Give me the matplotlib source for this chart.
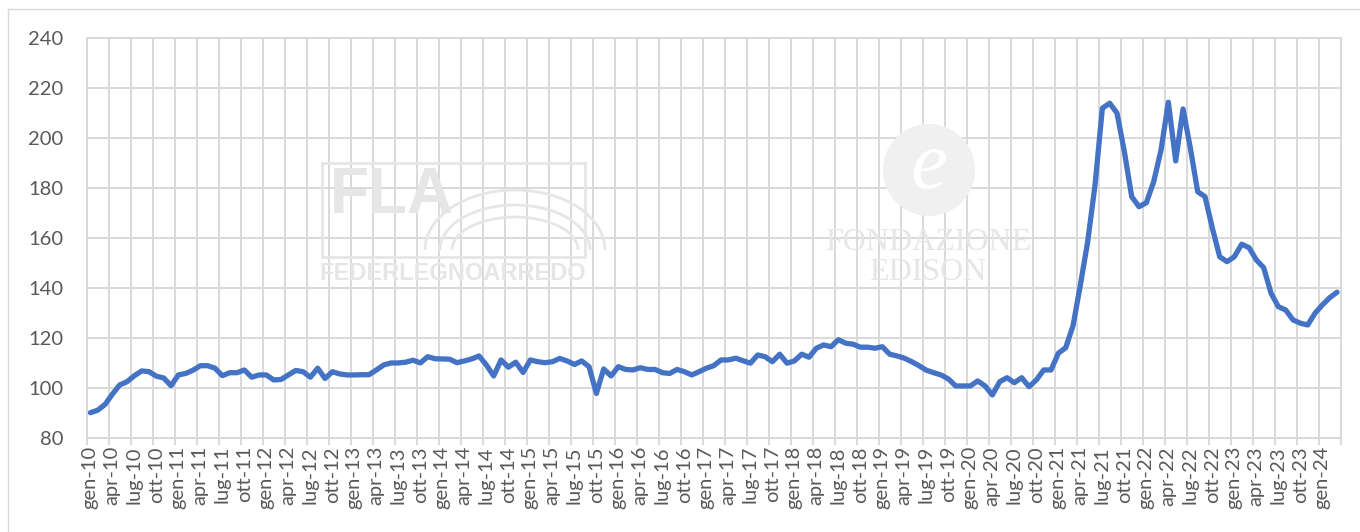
import numpy as np
import matplotlib
matplotlib.use('Agg')
import matplotlib.pyplot as plt
from matplotlib.lines import Line2D
from matplotlib.patches import Rectangle, Arc, Circle
from matplotlib.transforms import IdentityTransform

# monthly index, gen-10 .. mar-24
months_it = ['gen', 'feb', 'mar', 'apr', 'mag', 'giu', 'lug', 'ago', 'set', 'ott', 'nov', 'dic']
years = list(range(2010, 2025))
index_values = [
    90.0, 91.0, 93.3, 97.4, 101.1, 102.4, 104.8, 106.7, 106.4, 104.6, 103.9, 100.8,   # 2010
    105.1, 105.7, 107.0, 108.8, 108.8, 107.8, 104.8, 106.0, 106.0, 107.1, 104.2, 105.1,  # 2011
    105.1, 103.1, 103.3, 105.1, 106.9, 106.4, 104.2, 107.8, 103.7, 106.4, 105.5, 105.1,  # 2012
    105.1, 105.2, 105.2, 107.1, 109.1, 109.9, 109.9, 110.2, 111.0, 109.9, 112.4, 111.6,  # 2013
    111.5, 111.4, 110.0, 110.7, 111.5, 112.7, 109.1, 104.7, 111.1, 108.2, 110.2, 106.1,  # 2014
    111.1, 110.4, 110.0, 110.4, 111.7, 110.7, 109.3, 110.7, 108.4, 97.7, 107.5, 104.7,   # 2015
    108.4, 107.3, 107.1, 108.0, 107.3, 107.3, 106.0, 105.7, 107.3, 106.4, 105.1, 106.4,  # 2016
    107.8, 108.8, 111.1, 111.1, 111.8, 110.8, 109.8, 113.1, 112.4, 110.4, 113.4, 109.8,  # 2017
    110.7, 113.4, 112.2, 115.8, 117.1, 116.4, 119.2, 117.8, 117.4, 116.2, 116.2, 115.8,  # 2018
    116.4, 113.4, 112.7, 111.8, 110.4, 108.8, 107.0, 106.0, 105.1, 103.5, 100.7, 100.7,  # 2019
    100.7, 102.7, 100.7, 97.1, 102.4, 104.0, 102.0, 104.0, 100.4, 103.1, 107.1, 107.1,   # 2020
    113.8, 116.0, 124.8, 141.1, 158.4, 181.1, 211.8, 213.8, 209.8, 194.4, 176.4, 172.4,  # 2021
    174.0, 182.4, 195.1, 214.2, 190.7, 211.5, 195.8, 178.4, 176.4, 163.8, 152.4, 150.4,  # 2022
    152.4, 157.4, 156.0, 151.1, 148.0, 137.8, 132.4, 131.1, 127.1, 125.8, 125.1, 129.8,  # 2023
    133.1, 136.0, 138.2,                                                                # 2024
]
y_ticks = [80, 100, 120, 140, 160, 180, 200, 220, 240]

n = len(index_values)
categories = ['{}-{}'.format(months_it[i % 12], str(years[i // 12])[2:]) for i in range(n)]

W, H = 1360, 532
fig = plt.figure(figsize=(W / 100, H / 100), dpi=100)
left, right, top, bottom = 86.7, 1340.7, 37.7, 437.7
ax = fig.add_axes([left / W, 1 - bottom / H, (right - left) / W, (bottom - top) / H])

grid_col = '#d9d9d9'
txt_col = '#595959'
font = 'Lato'

# outer chart border (only top and left visible)
fig.add_artist(Line2D([8 / W, 1], [1 - 9 / H, 1 - 9 / H], color=grid_col, lw=1.0))
fig.add_artist(Line2D([8 / W, 8 / W], [0, 1 - 9 / H], color=grid_col, lw=1.0))

# watermark logos
wm = '#e6e6e6'
pix = IdentityTransform()
fig.add_artist(Rectangle((322, H - 257), 263, 94, fill=False, ec=wm, lw=2.0, transform=pix, zorder=2))
fig.text(330 / W, 1 - 196 / H, 'FLA', fontsize=46, fontweight='bold', family='Liberation Sans',
         color=wm, va='center', ha='left', zorder=2)
for r in (60, 45, 33):
    fig.add_artist(Arc((515, H - 250), 2 * r + 60, 2 * r, theta1=0, theta2=180, ec=wm, lw=2.0,
                       transform=pix, zorder=2))
fig.text(453 / W, 1 - 273 / H, 'FEDERLEGNOARREDO', fontsize=17, fontweight='bold',
         family='Liberation Sans', color=wm, ha='center', va='center', zorder=2)
fig.add_artist(Circle((929, H - 170), 46, fc='#f0f0f0', ec='none', transform=pix, zorder=2))
fig.text(929 / W, 1 - 168 / H, 'e', fontsize=60, style='italic', family='Liberation Serif',
         color='white', ha='center', va='center', zorder=2)
fig.text(928 / W, 1 - 242 / H, 'FONDAZIONE', fontsize=23, family='Liberation Serif',
         color=wm, ha='center', va='center', zorder=2)
fig.text(928 / W, 1 - 273 / H, 'EDISON', fontsize=23, family='Liberation Serif',
         color=wm, ha='center', va='center', zorder=2)
ax.patch.set_alpha(0)

x = np.arange(n) + 0.5
ax.plot(x, index_values, color='#4472C4', lw=3.8, solid_joinstyle='round',
        solid_capstyle='round', zorder=3)

ax.set_xlim(0, n)
ax.set_ylim(80, 240)
ax.set_yticks(y_ticks)
ax.set_yticklabels([str(v) for v in y_ticks], fontsize=14.5, color=txt_col, family=font)

ax.set_xticks(np.arange(0, n + 1, 3))
ax.set_xticklabels([])
ax.set_xticks(x[::3], minor=True)
ax.set_xticklabels(categories[::3], minor=True, rotation=90, fontsize=14.5,
                   color=txt_col, family=font)

ax.grid(which='major', color=grid_col, lw=1.4, zorder=0)
for s in ax.spines.values():
    s.set_color(grid_col)
    s.set_linewidth(1.4)
ax.tick_params(axis='x', which='major', length=5, color=grid_col, width=1.4)
ax.tick_params(axis='x', which='minor', length=0, pad=6)
ax.tick_params(axis='y', length=0, pad=17)

fig.savefig('out.png', dpi=100)
